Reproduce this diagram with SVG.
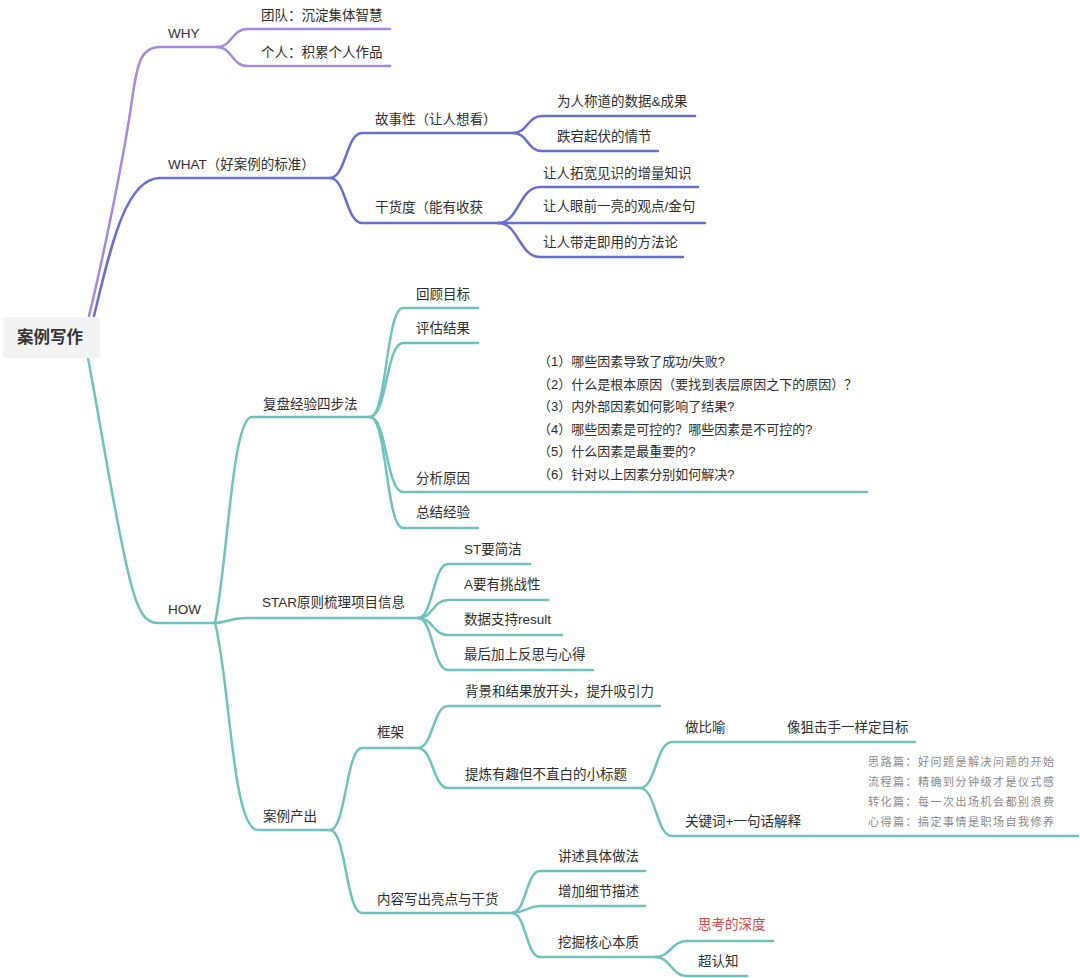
<svg xmlns="http://www.w3.org/2000/svg" width="1080" height="978" viewBox="0 0 1080 978">
<style>
text{font-family:"Liberation Sans","Noto Sans CJK SC",sans-serif;font-size:13.5px;fill:#2e2e2e}
.root{font-size:16.5px;font-weight:bold;fill:#333}
.note{font-size:13px}
.small{font-size:11px;fill:#8a8a8a;letter-spacing:1.5px}
.red{fill:#cc4b4b}
.c{fill:none;stroke-width:2.5;stroke-linecap:round}
.why{stroke:#a58ade}
.what{stroke:#6870cf}
.how{stroke:#70c3bc}
</style>
<rect width="1080" height="978" fill="#ffffff"/>
<g id="connectors">
<path class="c why" d="M89 316 C105 250,125 150,132 100 C137 65,140 47,160 47 L217 47"/>
<path class="c why" d="M217 47 C232 47,232 29,247 29 L390 29"/>
<path class="c why" d="M217 47 C232 47,232 66,247 66 L390 66"/>
<path class="c what" d="M94 316 C110 250,125 178,160 178 L330 178"/>
<path class="c what" d="M330 178 C346 178,346 133,362 133 L513 133"/>
<path class="c what" d="M513 133 C528 133,527 116,542 116 L695 116"/>
<path class="c what" d="M513 133 C528 133,527 151,542 151 L658 151"/>
<path class="c what" d="M330 178 C346 178,346 223,362 223 L498 223"/>
<path class="c what" d="M498 223 C519 223,519 187,540 187 L698 187"/>
<path class="c what" d="M498 223 L705 223"/>
<path class="c what" d="M498 223 C519 223,519 257,540 257 L683 257"/>
<path class="c how" d="M88 358 C100 420,115 520,130 580 C138 612,145 623,158 623 L215 623"/>
<path class="c how" d="M215 623 C228 560,232 417,252 417 L370 417"/>
<path class="c how" d="M370 417 C387 417,386 308,403 308 L478 308"/>
<path class="c how" d="M370 417 C387 417,386 343,403 343 L478 343"/>
<path class="c how" d="M370 417 C387 417,386 492,403 492 L867 492"/>
<path class="c how" d="M370 417 C387 417,386 528,403 528 L478 528"/>
<path class="c how" d="M215 623 C226 623,230 618,245 618 L418 618"/>
<path class="c how" d="M418 618 C433 618,433 564,448 564 L530 564"/>
<path class="c how" d="M418 618 C433 618,433 600,448 600 L548 600"/>
<path class="c how" d="M418 618 C433 618,433 635,448 635 L562 635"/>
<path class="c how" d="M418 618 C433 618,433 670,448 670 L593 670"/>
<path class="c how" d="M215 623 C230 680,232 830,258 830 L330 830"/>
<path class="c how" d="M330 830 C346 830,346 748,362 748 L418 748"/>
<path class="c how" d="M418 748 C433 748,433 706,448 706 L660 706"/>
<path class="c how" d="M418 748 C433 748,433 788,448 788 L640 788"/>
<path class="c how" d="M640 788 C656 788,656 742,672 742 L915 742"/>
<path class="c how" d="M640 788 C656 788,656 836,672 836 L1078 836"/>
<path class="c how" d="M330 830 C346 830,346 913,362 913 L512 913"/>
<path class="c how" d="M512 913 C526 913,526 871,540 871 L645 871"/>
<path class="c how" d="M512 913 C526 913,526 906,540 906 L645 906"/>
<path class="c how" d="M512 913 C526 913,526 957,540 957 L655 957"/>
<path class="c how" d="M655 957 C671 957,671 941,687 941 L773 941"/>
<path class="c how" d="M655 957 C671 957,671 976,687 976 L747 976"/>
</g>
<g id="root"><rect x="3" y="317" width="97" height="41" rx="2" fill="#f3f3f3"/><text class="root" x="17" y="343">案例写作</text></g>
<g id="why"><text x="168" y="38">WHY</text></g>
<g id="why-team"><text x="261" y="20">团队：沉淀集体智慧</text></g>
<g id="why-self"><text x="261" y="57">个人：积累个人作品</text></g>
<g id="what"><text x="168" y="169">WHAT（好案例的标准）</text></g>
<g id="story"><text x="375" y="124">故事性（让人想看）</text></g>
<g id="story-1"><text x="557" y="106">为人称道的数据&amp;成果</text></g>
<g id="story-2"><text x="557" y="141">跌宕起伏的情节</text></g>
<g id="value"><text x="375" y="212">干货度（能有收获</text></g>
<g id="value-1"><text x="543" y="178">让人拓宽见识的增量知识</text></g>
<g id="value-2"><text x="543" y="211">让人眼前一亮的观点/金句</text></g>
<g id="value-3"><text x="543" y="247">让人带走即用的方法论</text></g>
<g id="how"><text x="168" y="614">HOW</text></g>
<g id="review"><text x="263" y="409">复盘经验四步法</text></g>
<g id="review-1"><text x="416" y="299">回顾目标</text></g>
<g id="review-2"><text x="416" y="333">评估结果</text></g>
<g id="review-3"><text x="416" y="483">分析原因</text>
<text class="note" x="538" y="366">（1）哪些因素导致了成功/失败?</text>
<text class="note" x="538" y="389">（2）什么是根本原因（要找到表层原因之下的原因）？</text>
<text class="note" x="538" y="411">（3）内外部因素如何影响了结果?</text>
<text class="note" x="538" y="434">（4）哪些因素是可控的？哪些因素是不可控的?</text>
<text class="note" x="538" y="456">（5）什么因素是最重要的?</text>
<text class="note" x="538" y="479">（6）针对以上因素分别如何解决?</text></g>
<g id="review-4"><text x="416" y="517">总结经验</text></g>
<g id="star"><text x="262" y="607">STAR原则梳理项目信息</text></g>
<g id="star-1"><text x="464" y="554">ST要简洁</text></g>
<g id="star-2"><text x="464" y="589">A要有挑战性</text></g>
<g id="star-3"><text x="464" y="624">数据支持result</text></g>
<g id="star-4"><text x="464" y="659">最后加上反思与心得</text></g>
<g id="output"><text x="263" y="821">案例产出</text></g>
<g id="frame"><text x="377" y="737">框架</text></g>
<g id="frame-1"><text x="465" y="696">背景和结果放开头，提升吸引力</text></g>
<g id="frame-2"><text x="465" y="779">提炼有趣但不直白的小标题</text></g>
<g id="metaphor"><text x="685" y="732">做比喻</text></g>
<g id="metaphor-1"><text x="787" y="732">像狙击手一样定目标</text></g>
<g id="keyword"><text x="685" y="826">关键词+一句话解释</text>
<text class="small" x="868" y="766">思路篇：好问题是解决问题的开始</text>
<text class="small" x="868" y="786">流程篇：精确到分钟级才是仪式感</text>
<text class="small" x="868" y="806">转化篇：每一次出场机会都别浪费</text>
<text class="small" x="868" y="826">心得篇：搞定事情是职场自我修养</text></g>
<g id="content"><text x="377" y="904">内容写出亮点与干货</text></g>
<g id="content-1"><text x="558" y="861">讲述具体做法</text></g>
<g id="content-2"><text x="558" y="896">增加细节描述</text></g>
<g id="content-3"><text x="558" y="947">挖掘核心本质</text></g>
<g id="depth"><text class="red" x="698" y="929">思考的深度</text></g>
<g id="meta"><text x="698" y="966">超认知</text></g>
</svg>
